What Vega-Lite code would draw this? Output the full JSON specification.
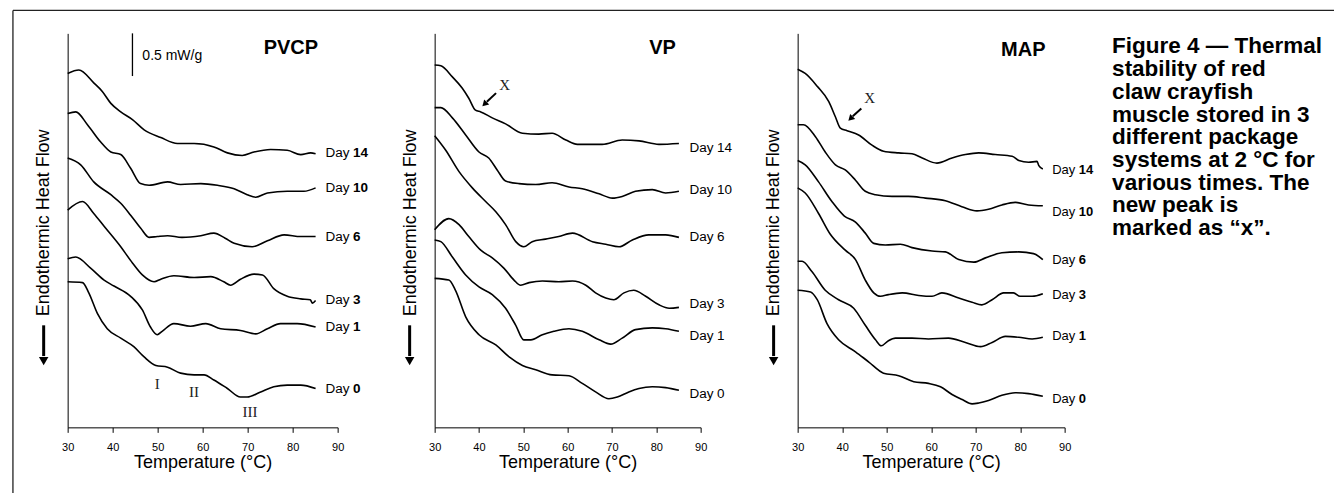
{
  "$schema": "https://vega.github.io/schema/vega-lite/v6.json",
  "padding": {"left": 11.65, "top": 9.35, "right": 0, "bottom": 0},
  "background": "white",
  "spacing": 97,
  "bounds": "flush",
  "datasets": {
    "curves": [
      {"p":"PVCP","d":14,"t":30,"v":4.13},{"p":"PVCP","d":14,"t":32.5,"v":4.17},{"p":"PVCP","d":14,"t":35.8,"v":4.02},{"p":"PVCP","d":14,"t":37.7,"v":3.92},{"p":"PVCP","d":14,"t":39.6,"v":3.78},{"p":"PVCP","d":14,"t":41.8,"v":3.68},{"p":"PVCP","d":14,"t":44.4,"v":3.59},{"p":"PVCP","d":14,"t":47.0,"v":3.47},{"p":"PVCP","d":14,"t":50.7,"v":3.38},{"p":"PVCP","d":14,"t":54.4,"v":3.31},{"p":"PVCP","d":14,"t":58.1,"v":3.31},{"p":"PVCP","d":14,"t":62.5,"v":3.27},{"p":"PVCP","d":14,"t":65.5,"v":3.20},{"p":"PVCP","d":14,"t":68.8,"v":3.17},{"p":"PVCP","d":14,"t":71.4,"v":3.21},{"p":"PVCP","d":14,"t":75.1,"v":3.24},{"p":"PVCP","d":14,"t":78.8,"v":3.23},{"p":"PVCP","d":14,"t":81.8,"v":3.18},{"p":"PVCP","d":14,"t":84.0,"v":3.20},{"p":"PVCP","d":14,"t":85.1,"v":3.19},
      {"p":"PVCP","d":10,"t":30,"v":3.66},{"p":"PVCP","d":10,"t":31.8,"v":3.68},{"p":"PVCP","d":10,"t":34.4,"v":3.53},{"p":"PVCP","d":10,"t":37.3,"v":3.33},{"p":"PVCP","d":10,"t":39.6,"v":3.21},{"p":"PVCP","d":10,"t":41.8,"v":3.18},{"p":"PVCP","d":10,"t":44.0,"v":3.02},{"p":"PVCP","d":10,"t":46.2,"v":2.84},{"p":"PVCP","d":10,"t":48.1,"v":2.82},{"p":"PVCP","d":10,"t":52.2,"v":2.86},{"p":"PVCP","d":10,"t":55.1,"v":2.83},{"p":"PVCP","d":10,"t":59.6,"v":2.84},{"p":"PVCP","d":10,"t":63.3,"v":2.82},{"p":"PVCP","d":10,"t":67.0,"v":2.78},{"p":"PVCP","d":10,"t":69.9,"v":2.71},{"p":"PVCP","d":10,"t":71.8,"v":2.68},{"p":"PVCP","d":10,"t":74.4,"v":2.73},{"p":"PVCP","d":10,"t":78.8,"v":2.75},{"p":"PVCP","d":10,"t":82.5,"v":2.75},{"p":"PVCP","d":10,"t":85.1,"v":2.79},
      {"p":"PVCP","d":6,"t":30,"v":3.14},{"p":"PVCP","d":6,"t":32.9,"v":3.06},{"p":"PVCP","d":6,"t":35.8,"v":2.86},{"p":"PVCP","d":6,"t":39.6,"v":2.71},{"p":"PVCP","d":6,"t":41.8,"v":2.61},{"p":"PVCP","d":6,"t":44.0,"v":2.47},{"p":"PVCP","d":6,"t":46.2,"v":2.32},{"p":"PVCP","d":6,"t":48.1,"v":2.21},{"p":"PVCP","d":6,"t":49.9,"v":2.22},{"p":"PVCP","d":6,"t":52.2,"v":2.23},{"p":"PVCP","d":6,"t":55.4,"v":2.21},{"p":"PVCP","d":6,"t":59.6,"v":2.23},{"p":"PVCP","d":6,"t":62.5,"v":2.26},{"p":"PVCP","d":6,"t":65.0,"v":2.20},{"p":"PVCP","d":6,"t":67.0,"v":2.14},{"p":"PVCP","d":6,"t":71.0,"v":2.10},{"p":"PVCP","d":6,"t":74.4,"v":2.17},{"p":"PVCP","d":6,"t":78.1,"v":2.24},{"p":"PVCP","d":6,"t":81.8,"v":2.22},{"p":"PVCP","d":6,"t":85.1,"v":2.22},
      {"p":"PVCP","d":3,"t":30,"v":2.53},{"p":"PVCP","d":3,"t":33.3,"v":2.63},{"p":"PVCP","d":3,"t":35.8,"v":2.49},{"p":"PVCP","d":3,"t":38.1,"v":2.34},{"p":"PVCP","d":3,"t":41.8,"v":2.10},{"p":"PVCP","d":3,"t":44.4,"v":1.91},{"p":"PVCP","d":3,"t":46.6,"v":1.77},{"p":"PVCP","d":3,"t":49.2,"v":1.69},{"p":"PVCP","d":3,"t":50.7,"v":1.72},{"p":"PVCP","d":3,"t":53.6,"v":1.76},{"p":"PVCP","d":3,"t":58.1,"v":1.74},{"p":"PVCP","d":3,"t":61.8,"v":1.75},{"p":"PVCP","d":3,"t":64.7,"v":1.69},{"p":"PVCP","d":3,"t":66.2,"v":1.65},{"p":"PVCP","d":3,"t":68.4,"v":1.72},{"p":"PVCP","d":3,"t":71.4,"v":1.78},{"p":"PVCP","d":3,"t":73.3,"v":1.77},{"p":"PVCP","d":3,"t":75.8,"v":1.61},{"p":"PVCP","d":3,"t":78.8,"v":1.52},{"p":"PVCP","d":3,"t":81.8,"v":1.49},{"p":"PVCP","d":3,"t":83.9,"v":1.48},{"p":"PVCP","d":3,"t":84.4,"v":1.44},{"p":"PVCP","d":3,"t":85.1,"v":1.47},
      {"p":"PVCP","d":1,"t":30,"v":1.96},{"p":"PVCP","d":1,"t":31.8,"v":1.98},{"p":"PVCP","d":1,"t":35.1,"v":1.85},{"p":"PVCP","d":1,"t":38.1,"v":1.71},{"p":"PVCP","d":1,"t":40.3,"v":1.64},{"p":"PVCP","d":1,"t":44.0,"v":1.52},{"p":"PVCP","d":1,"t":46.6,"v":1.36},{"p":"PVCP","d":1,"t":48.4,"v":1.16},{"p":"PVCP","d":1,"t":49.9,"v":1.07},{"p":"PVCP","d":1,"t":51.0,"v":1.11},{"p":"PVCP","d":1,"t":53.6,"v":1.20},{"p":"PVCP","d":1,"t":57.3,"v":1.17},{"p":"PVCP","d":1,"t":60.7,"v":1.20},{"p":"PVCP","d":1,"t":64.0,"v":1.14},{"p":"PVCP","d":1,"t":68.4,"v":1.12},{"p":"PVCP","d":1,"t":71.8,"v":1.08},{"p":"PVCP","d":1,"t":74.4,"v":1.14},{"p":"PVCP","d":1,"t":77.3,"v":1.20},{"p":"PVCP","d":1,"t":81.0,"v":1.20},{"p":"PVCP","d":1,"t":85.1,"v":1.16},
      {"p":"PVCP","d":0,"t":30,"v":1.69},{"p":"PVCP","d":0,"t":33.3,"v":1.68},{"p":"PVCP","d":0,"t":34.7,"v":1.56},{"p":"PVCP","d":0,"t":36.6,"v":1.32},{"p":"PVCP","d":0,"t":38.8,"v":1.14},{"p":"PVCP","d":0,"t":41.8,"v":1.03},{"p":"PVCP","d":0,"t":44.7,"v":0.93},{"p":"PVCP","d":0,"t":47.0,"v":0.81},{"p":"PVCP","d":0,"t":49.6,"v":0.71},{"p":"PVCP","d":0,"t":52.2,"v":0.69},{"p":"PVCP","d":0,"t":55.1,"v":0.62},{"p":"PVCP","d":0,"t":58.1,"v":0.60},{"p":"PVCP","d":0,"t":60.3,"v":0.60},{"p":"PVCP","d":0,"t":62.5,"v":0.54},{"p":"PVCP","d":0,"t":65.5,"v":0.44},{"p":"PVCP","d":0,"t":68.4,"v":0.34},{"p":"PVCP","d":0,"t":69.9,"v":0.34},{"p":"PVCP","d":0,"t":72.9,"v":0.40},{"p":"PVCP","d":0,"t":75.8,"v":0.46},{"p":"PVCP","d":0,"t":78.8,"v":0.48},{"p":"PVCP","d":0,"t":81.8,"v":0.48},{"p":"PVCP","d":0,"t":85.1,"v":0.44},
      {"p":"VP","d":14,"t":30,"v":4.23},{"p":"VP","d":14,"t":31.4,"v":4.22},{"p":"VP","d":14,"t":34.0,"v":4.09},{"p":"VP","d":14,"t":36.2,"v":3.96},{"p":"VP","d":14,"t":37.7,"v":3.84},{"p":"VP","d":14,"t":39.2,"v":3.70},{"p":"VP","d":14,"t":40.4,"v":3.68},{"p":"VP","d":14,"t":43.0,"v":3.61},{"p":"VP","d":14,"t":46.0,"v":3.54},{"p":"VP","d":14,"t":49.8,"v":3.43},{"p":"VP","d":14,"t":53.5,"v":3.42},{"p":"VP","d":14,"t":56.5,"v":3.43},{"p":"VP","d":14,"t":59.6,"v":3.35},{"p":"VP","d":14,"t":62.2,"v":3.30},{"p":"VP","d":14,"t":67.8,"v":3.30},{"p":"VP","d":14,"t":72.3,"v":3.35},{"p":"VP","d":14,"t":76.1,"v":3.34},{"p":"VP","d":14,"t":80.6,"v":3.30},{"p":"VP","d":14,"t":85.1,"v":3.31},
      {"p":"VP","d":10,"t":30,"v":3.73},{"p":"VP","d":10,"t":31.4,"v":3.73},{"p":"VP","d":10,"t":34.0,"v":3.61},{"p":"VP","d":10,"t":37.0,"v":3.41},{"p":"VP","d":10,"t":40.0,"v":3.21},{"p":"VP","d":10,"t":42.2,"v":3.14},{"p":"VP","d":10,"t":44.1,"v":3.00},{"p":"VP","d":10,"t":46.0,"v":2.87},{"p":"VP","d":10,"t":49.0,"v":2.84},{"p":"VP","d":10,"t":52.8,"v":2.83},{"p":"VP","d":10,"t":56.5,"v":2.85},{"p":"VP","d":10,"t":60.3,"v":2.80},{"p":"VP","d":10,"t":63.3,"v":2.78},{"p":"VP","d":10,"t":67.1,"v":2.72},{"p":"VP","d":10,"t":70.1,"v":2.67},{"p":"VP","d":10,"t":72.3,"v":2.69},{"p":"VP","d":10,"t":75.3,"v":2.75},{"p":"VP","d":10,"t":79.1,"v":2.77},{"p":"VP","d":10,"t":82.1,"v":2.73},{"p":"VP","d":10,"t":85.1,"v":2.75},
      {"p":"VP","d":6,"t":30,"v":3.40},{"p":"VP","d":6,"t":32.5,"v":3.23},{"p":"VP","d":6,"t":35.5,"v":2.98},{"p":"VP","d":6,"t":38.5,"v":2.79},{"p":"VP","d":6,"t":41.5,"v":2.63},{"p":"VP","d":6,"t":43.8,"v":2.51},{"p":"VP","d":6,"t":46.0,"v":2.36},{"p":"VP","d":6,"t":48.3,"v":2.16},{"p":"VP","d":6,"t":50.1,"v":2.10},{"p":"VP","d":6,"t":52.0,"v":2.16},{"p":"VP","d":6,"t":55.0,"v":2.19},{"p":"VP","d":6,"t":58.0,"v":2.22},{"p":"VP","d":6,"t":61.1,"v":2.26},{"p":"VP","d":6,"t":65.6,"v":2.16},{"p":"VP","d":6,"t":68.6,"v":2.13},{"p":"VP","d":6,"t":71.6,"v":2.10},{"p":"VP","d":6,"t":74.6,"v":2.18},{"p":"VP","d":6,"t":78.3,"v":2.24},{"p":"VP","d":6,"t":82.1,"v":2.24},{"p":"VP","d":6,"t":85.1,"v":2.21},
      {"p":"VP","d":3,"t":30,"v":2.30},{"p":"VP","d":3,"t":33.2,"v":2.43},{"p":"VP","d":3,"t":35.5,"v":2.36},{"p":"VP","d":3,"t":37.7,"v":2.22},{"p":"VP","d":3,"t":40.4,"v":2.06},{"p":"VP","d":3,"t":43.0,"v":1.97},{"p":"VP","d":3,"t":45.6,"v":1.85},{"p":"VP","d":3,"t":47.9,"v":1.71},{"p":"VP","d":3,"t":49.4,"v":1.65},{"p":"VP","d":3,"t":51.3,"v":1.68},{"p":"VP","d":3,"t":54.3,"v":1.70},{"p":"VP","d":3,"t":58.0,"v":1.69},{"p":"VP","d":3,"t":61.1,"v":1.70},{"p":"VP","d":3,"t":64.1,"v":1.65},{"p":"VP","d":3,"t":66.3,"v":1.56},{"p":"VP","d":3,"t":68.6,"v":1.50},{"p":"VP","d":3,"t":70.4,"v":1.48},{"p":"VP","d":3,"t":72.7,"v":1.56},{"p":"VP","d":3,"t":74.9,"v":1.59},{"p":"VP","d":3,"t":77.6,"v":1.52},{"p":"VP","d":3,"t":80.6,"v":1.42},{"p":"VP","d":3,"t":82.9,"v":1.38},{"p":"VP","d":3,"t":85.1,"v":1.39},
      {"p":"VP","d":1,"t":30,"v":2.18},{"p":"VP","d":1,"t":31.4,"v":2.16},{"p":"VP","d":1,"t":34.0,"v":1.98},{"p":"VP","d":1,"t":37.0,"v":1.77},{"p":"VP","d":1,"t":40.0,"v":1.63},{"p":"VP","d":1,"t":43.0,"v":1.54},{"p":"VP","d":1,"t":46.0,"v":1.38},{"p":"VP","d":1,"t":48.3,"v":1.18},{"p":"VP","d":1,"t":50.1,"v":1.01},{"p":"VP","d":1,"t":51.7,"v":1.01},{"p":"VP","d":1,"t":54.3,"v":1.07},{"p":"VP","d":1,"t":56.9,"v":1.11},{"p":"VP","d":1,"t":60.3,"v":1.14},{"p":"VP","d":1,"t":63.3,"v":1.11},{"p":"VP","d":1,"t":67.1,"v":1.01},{"p":"VP","d":1,"t":69.7,"v":0.96},{"p":"VP","d":1,"t":72.3,"v":1.03},{"p":"VP","d":1,"t":75.3,"v":1.13},{"p":"VP","d":1,"t":79.1,"v":1.15},{"p":"VP","d":1,"t":82.1,"v":1.14},{"p":"VP","d":1,"t":85.1,"v":1.11},
      {"p":"VP","d":0,"t":30,"v":1.73},{"p":"VP","d":0,"t":33.2,"v":1.71},{"p":"VP","d":0,"t":34.7,"v":1.59},{"p":"VP","d":0,"t":37.0,"v":1.28},{"p":"VP","d":0,"t":40.0,"v":1.07},{"p":"VP","d":0,"t":43.8,"v":0.95},{"p":"VP","d":0,"t":46.8,"v":0.81},{"p":"VP","d":0,"t":49.8,"v":0.71},{"p":"VP","d":0,"t":52.8,"v":0.66},{"p":"VP","d":0,"t":56.5,"v":0.60},{"p":"VP","d":0,"t":60.3,"v":0.59},{"p":"VP","d":0,"t":63.3,"v":0.50},{"p":"VP","d":0,"t":66.3,"v":0.40},{"p":"VP","d":0,"t":69.3,"v":0.32},{"p":"VP","d":0,"t":71.2,"v":0.34},{"p":"VP","d":0,"t":73.8,"v":0.40},{"p":"VP","d":0,"t":76.1,"v":0.44},{"p":"VP","d":0,"t":79.1,"v":0.46},{"p":"VP","d":0,"t":82.1,"v":0.45},{"p":"VP","d":0,"t":85.1,"v":0.42},
      {"p":"MAP","d":14,"t":30,"v":4.18},{"p":"MAP","d":14,"t":31.7,"v":4.13},{"p":"MAP","d":14,"t":34.4,"v":3.98},{"p":"MAP","d":14,"t":37.0,"v":3.80},{"p":"MAP","d":14,"t":38.5,"v":3.62},{"p":"MAP","d":14,"t":39.6,"v":3.49},{"p":"MAP","d":14,"t":41.1,"v":3.46},{"p":"MAP","d":14,"t":43.7,"v":3.41},{"p":"MAP","d":14,"t":46.7,"v":3.29},{"p":"MAP","d":14,"t":49.3,"v":3.22},{"p":"MAP","d":14,"t":52.7,"v":3.20},{"p":"MAP","d":14,"t":55.7,"v":3.19},{"p":"MAP","d":14,"t":58.0,"v":3.14},{"p":"MAP","d":14,"t":61.3,"v":3.08},{"p":"MAP","d":14,"t":64.7,"v":3.14},{"p":"MAP","d":14,"t":67.7,"v":3.18},{"p":"MAP","d":14,"t":70.7,"v":3.20},{"p":"MAP","d":14,"t":74.4,"v":3.18},{"p":"MAP","d":14,"t":78.2,"v":3.16},{"p":"MAP","d":14,"t":79.7,"v":3.11},{"p":"MAP","d":14,"t":81.9,"v":3.09},{"p":"MAP","d":14,"t":83.8,"v":3.10},{"p":"MAP","d":14,"t":84.2,"v":3.05},{"p":"MAP","d":14,"t":85.1,"v":3.01},
      {"p":"MAP","d":10,"t":30,"v":3.53},{"p":"MAP","d":10,"t":31.3,"v":3.53},{"p":"MAP","d":10,"t":34.0,"v":3.39},{"p":"MAP","d":10,"t":36.2,"v":3.21},{"p":"MAP","d":10,"t":38.5,"v":3.06},{"p":"MAP","d":10,"t":40.7,"v":3.00},{"p":"MAP","d":10,"t":43.0,"v":2.88},{"p":"MAP","d":10,"t":45.2,"v":2.75},{"p":"MAP","d":10,"t":47.5,"v":2.71},{"p":"MAP","d":10,"t":51.2,"v":2.69},{"p":"MAP","d":10,"t":54.9,"v":2.69},{"p":"MAP","d":10,"t":58.7,"v":2.67},{"p":"MAP","d":10,"t":63.2,"v":2.64},{"p":"MAP","d":10,"t":66.9,"v":2.57},{"p":"MAP","d":10,"t":70.3,"v":2.52},{"p":"MAP","d":10,"t":72.9,"v":2.54},{"p":"MAP","d":10,"t":75.9,"v":2.59},{"p":"MAP","d":10,"t":78.9,"v":2.62},{"p":"MAP","d":10,"t":81.9,"v":2.59},{"p":"MAP","d":10,"t":85.1,"v":2.58},
      {"p":"MAP","d":6,"t":30,"v":3.11},{"p":"MAP","d":6,"t":31.7,"v":3.06},{"p":"MAP","d":6,"t":34.7,"v":2.86},{"p":"MAP","d":6,"t":37.7,"v":2.63},{"p":"MAP","d":6,"t":40.5,"v":2.46},{"p":"MAP","d":6,"t":43.0,"v":2.39},{"p":"MAP","d":6,"t":45.2,"v":2.26},{"p":"MAP","d":6,"t":47.1,"v":2.14},{"p":"MAP","d":6,"t":49.7,"v":2.12},{"p":"MAP","d":6,"t":53.1,"v":2.13},{"p":"MAP","d":6,"t":55.7,"v":2.09},{"p":"MAP","d":6,"t":60.2,"v":2.05},{"p":"MAP","d":6,"t":63.2,"v":2.04},{"p":"MAP","d":6,"t":66.2,"v":1.95},{"p":"MAP","d":6,"t":69.6,"v":1.92},{"p":"MAP","d":6,"t":72.2,"v":1.97},{"p":"MAP","d":6,"t":75.9,"v":2.03},{"p":"MAP","d":6,"t":79.7,"v":2.04},{"p":"MAP","d":6,"t":83.0,"v":2.02},{"p":"MAP","d":6,"t":85.1,"v":1.95},
      {"p":"MAP","d":3,"t":30,"v":2.79},{"p":"MAP","d":3,"t":31.7,"v":2.73},{"p":"MAP","d":3,"t":34.7,"v":2.49},{"p":"MAP","d":3,"t":37.3,"v":2.25},{"p":"MAP","d":3,"t":40.7,"v":2.06},{"p":"MAP","d":3,"t":43.0,"v":1.95},{"p":"MAP","d":3,"t":45.2,"v":1.71},{"p":"MAP","d":3,"t":47.1,"v":1.56},{"p":"MAP","d":3,"t":48.6,"v":1.52},{"p":"MAP","d":3,"t":50.4,"v":1.54},{"p":"MAP","d":3,"t":53.5,"v":1.56},{"p":"MAP","d":3,"t":57.2,"v":1.53},{"p":"MAP","d":3,"t":60.2,"v":1.52},{"p":"MAP","d":3,"t":62.4,"v":1.56},{"p":"MAP","d":3,"t":66.2,"v":1.50},{"p":"MAP","d":3,"t":69.2,"v":1.45},{"p":"MAP","d":3,"t":71.4,"v":1.42},{"p":"MAP","d":3,"t":73.7,"v":1.48},{"p":"MAP","d":3,"t":76.3,"v":1.56},{"p":"MAP","d":3,"t":78.5,"v":1.56},{"p":"MAP","d":3,"t":80.0,"v":1.52},{"p":"MAP","d":3,"t":82.7,"v":1.52},{"p":"MAP","d":3,"t":85.1,"v":1.55},
      {"p":"MAP","d":1,"t":30,"v":1.93},{"p":"MAP","d":1,"t":31.0,"v":1.93},{"p":"MAP","d":1,"t":33.2,"v":1.81},{"p":"MAP","d":1,"t":36.2,"v":1.59},{"p":"MAP","d":1,"t":39.2,"v":1.48},{"p":"MAP","d":1,"t":42.6,"v":1.38},{"p":"MAP","d":1,"t":45.2,"v":1.18},{"p":"MAP","d":1,"t":47.5,"v":1.01},{"p":"MAP","d":1,"t":48.8,"v":0.94},{"p":"MAP","d":1,"t":50.4,"v":1.00},{"p":"MAP","d":1,"t":52.0,"v":1.03},{"p":"MAP","d":1,"t":55.7,"v":1.03},{"p":"MAP","d":1,"t":59.4,"v":1.02},{"p":"MAP","d":1,"t":63.9,"v":1.03},{"p":"MAP","d":1,"t":67.7,"v":0.98},{"p":"MAP","d":1,"t":71.1,"v":0.93},{"p":"MAP","d":1,"t":73.7,"v":0.98},{"p":"MAP","d":1,"t":76.7,"v":1.05},{"p":"MAP","d":1,"t":79.7,"v":1.04},{"p":"MAP","d":1,"t":82.7,"v":1.02},{"p":"MAP","d":1,"t":85.1,"v":1.04},
      {"p":"MAP","d":0,"t":30,"v":1.59},{"p":"MAP","d":0,"t":32.9,"v":1.57},{"p":"MAP","d":0,"t":34.4,"v":1.48},{"p":"MAP","d":0,"t":36.6,"v":1.20},{"p":"MAP","d":0,"t":39.2,"v":1.01},{"p":"MAP","d":0,"t":43.0,"v":0.87},{"p":"MAP","d":0,"t":46.0,"v":0.75},{"p":"MAP","d":0,"t":49.3,"v":0.62},{"p":"MAP","d":0,"t":52.7,"v":0.59},{"p":"MAP","d":0,"t":56.1,"v":0.52},{"p":"MAP","d":0,"t":59.4,"v":0.50},{"p":"MAP","d":0,"t":62.1,"v":0.46},{"p":"MAP","d":0,"t":64.7,"v":0.37},{"p":"MAP","d":0,"t":67.0,"v":0.31},{"p":"MAP","d":0,"t":69.2,"v":0.26},{"p":"MAP","d":0,"t":70.7,"v":0.27},{"p":"MAP","d":0,"t":72.9,"v":0.30},{"p":"MAP","d":0,"t":75.9,"v":0.36},{"p":"MAP","d":0,"t":78.9,"v":0.39},{"p":"MAP","d":0,"t":81.9,"v":0.38},{"p":"MAP","d":0,"t":85.1,"v":0.35}
    ],
    "labels": [
      {"p":"PVCP","n":"14","t":87.3,"v":3.20},{"p":"PVCP","n":"10","t":87.3,"v":2.79},{"p":"PVCP","n":"6","t":87.3,"v":2.22},{"p":"PVCP","n":"3","t":87.3,"v":1.48},{"p":"PVCP","n":"1","t":87.3,"v":1.16},{"p":"PVCP","n":"0","t":87.3,"v":0.43},
      {"p":"VP","n":"14","t":87.5,"v":3.26},{"p":"VP","n":"10","t":87.5,"v":2.77},{"p":"VP","n":"6","t":87.5,"v":2.21},{"p":"VP","n":"3","t":87.5,"v":1.43},{"p":"VP","n":"1","t":87.5,"v":1.05},{"p":"VP","n":"0","t":87.5,"v":0.38},
      {"p":"MAP","n":"14","t":87.2,"v":3.00},{"p":"MAP","n":"10","t":87.2,"v":2.51},{"p":"MAP","n":"6","t":87.2,"v":1.95},{"p":"MAP","n":"3","t":87.2,"v":1.53},{"p":"MAP","n":"1","t":87.2,"v":1.05},{"p":"MAP","n":"0","t":87.2,"v":0.32}
    ]
  },
  "hconcat": [
    {
      "width": 270, "height": 394,
      "layer": [
        {"data": {"values": [{}]}, "mark": {"type": "rule", "clip": false, "stroke": "#222222", "strokeWidth": 1.3},
         "encoding": {"x": {"datum": 17.84, "type": "quantitative"}, "y": {"datum": 4.869, "type": "quantitative"}, "y2": {"datum": -0.95}}},
        {"data": {"values": [{}]}, "mark": {"type": "rule", "clip": false, "stroke": "#222222", "strokeWidth": 1.3},
         "encoding": {"x": {"datum": 17.84, "type": "quantitative"}, "x2": {"datum": 312.9}, "y": {"datum": 4.869, "type": "quantitative"}}},
        {"data": {"name": "curves"}, "transform": [{"filter": "datum.p == 'PVCP'"}],
         "mark": {"type": "line", "interpolate": "monotone", "stroke": "black", "strokeWidth": 1.6},
         "encoding": {
           "x": {"field": "t", "type": "quantitative", "title": "Temperature (°C)", "scale": {"domain": [30, 90], "nice": false, "zero": false},
                 "axis": {"values": [30, 40, 50, 60, 70, 80, 90], "format": "d", "grid": false, "tickSize": 5, "labelFontSize": 11, "labelPadding": 9, "labelFlush": false, "labelOverlap": false, "titleFontSize": 18, "titleFontWeight": "normal", "titleY": 40, "titleBaseline": "alphabetic"}},
           "y": {"field": "v", "type": "quantitative", "title": "Endothermic Heat Flow", "scale": {"domain": [-0.015, 4.6], "nice": false, "zero": false},
                 "axis": {"ticks": false, "labels": false, "grid": false, "titleFontSize": 18, "titleFontWeight": "normal", "titleX": -24, "titleY": 189, "titleAngle": 270, "titleBaseline": "middle", "titleAlign": "center"}},
           "detail": {"field": "d", "type": "nominal"}}},
        {"data": {"name": "labels"}, "transform": [{"filter": "datum.p == 'PVCP'"}],
         "mark": {"type": "text", "align": "left", "baseline": "middle", "fontSize": 13.5, "color": "black"},
         "encoding": {"x": {"field": "t", "type": "quantitative"}, "y": {"field": "v", "type": "quantitative"}, "text": {"value": "Day"}}},
        {"data": {"name": "labels"}, "transform": [{"filter": "datum.p == 'PVCP'"}],
         "mark": {"type": "text", "align": "left", "baseline": "middle", "fontSize": 13.5, "fontWeight": "bold", "dx": 27.5, "color": "black"},
         "encoding": {"x": {"field": "t", "type": "quantitative"}, "y": {"field": "v", "type": "quantitative"}, "text": {"field": "n"}}},
        {"data": {"values": [{}]}, "mark": {"type": "text", "fontSize": 20, "fontWeight": "bold", "align": "center", "baseline": "middle", "color": "black"},
         "encoding": {"x": {"datum": 79.6, "type": "quantitative"}, "y": {"datum": 4.43, "type": "quantitative"}, "text": {"value": "PVCP"}}},
        {"data": {"values": [{}]}, "mark": {"type": "rule", "stroke": "black", "strokeWidth": 1.3},
         "encoding": {"x": {"datum": 44.4, "type": "quantitative"}, "y": {"datum": 4.10, "type": "quantitative"}, "y2": {"datum": 4.6}}},
        {"data": {"values": [{}]}, "mark": {"type": "text", "fontSize": 14, "align": "left", "baseline": "middle", "color": "black"},
         "encoding": {"x": {"datum": 46.6, "type": "quantitative"}, "y": {"datum": 4.34, "type": "quantitative"}, "text": {"value": "0.5 mW/g"}}},
        {"data": {"values": [{}]}, "mark": {"type": "text", "font": "Liberation Serif", "fontSize": 15, "align": "center", "baseline": "middle", "color": "#222222"},
         "encoding": {"x": {"datum": 49.9, "type": "quantitative"}, "y": {"datum": 0.49, "type": "quantitative"}, "text": {"value": "I"}}},
        {"data": {"values": [{}]}, "mark": {"type": "text", "font": "Liberation Serif", "fontSize": 15, "align": "center", "baseline": "middle", "color": "#222222"},
         "encoding": {"x": {"datum": 58.1, "type": "quantitative"}, "y": {"datum": 0.40, "type": "quantitative"}, "text": {"value": "II"}}},
        {"data": {"values": [{}]}, "mark": {"type": "text", "font": "Liberation Serif", "fontSize": 15, "align": "center", "baseline": "middle", "color": "#222222"},
         "encoding": {"x": {"datum": 70.5, "type": "quantitative"}, "y": {"datum": 0.17, "type": "quantitative"}, "text": {"value": "III"}}},
        {"data": {"values": [{}]}, "mark": {"type": "rule", "clip": false, "stroke": "black", "strokeWidth": 3},
         "encoding": {"x": {"datum": 24.67, "type": "quantitative"}, "y": {"datum": 1.18, "type": "quantitative"}, "y2": {"datum": 0.82}}},
        {"data": {"values": [{}]}, "mark": {"type": "point", "clip": false, "shape": "triangle-down", "filled": true, "size": 90, "color": "black", "opacity": 1},
         "encoding": {"x": {"datum": 24.67, "type": "quantitative"}, "y": {"datum": 0.76, "type": "quantitative"}}}
      ]
    },
    {
      "width": 266, "height": 394,
      "layer": [
        {"data": {"name": "curves"}, "transform": [{"filter": "datum.p == 'VP'"}],
         "mark": {"type": "line", "interpolate": "monotone", "stroke": "black", "strokeWidth": 1.6},
         "encoding": {
           "x": {"field": "t", "type": "quantitative", "title": "Temperature (°C)", "scale": {"domain": [30, 90], "nice": false, "zero": false},
                 "axis": {"values": [30, 40, 50, 60, 70, 80, 90], "format": "d", "grid": false, "tickSize": 5, "labelFontSize": 11, "labelPadding": 9, "labelFlush": false, "labelOverlap": false, "titleFontSize": 18, "titleFontWeight": "normal", "titleY": 40, "titleBaseline": "alphabetic"}},
           "y": {"field": "v", "type": "quantitative", "title": "Endothermic Heat Flow", "scale": {"domain": [-0.015, 4.6], "nice": false, "zero": false},
                 "axis": {"ticks": false, "labels": false, "grid": false, "titleFontSize": 18, "titleFontWeight": "normal", "titleX": -24, "titleY": 189, "titleAngle": 270, "titleBaseline": "middle", "titleAlign": "center"}},
           "detail": {"field": "d", "type": "nominal"}}},
        {"data": {"name": "labels"}, "transform": [{"filter": "datum.p == 'VP'"}],
         "mark": {"type": "text", "align": "left", "baseline": "middle", "fontSize": 13.5, "color": "black"},
         "encoding": {"x": {"field": "t", "type": "quantitative"}, "y": {"field": "v", "type": "quantitative"}, "text": {"value": "Day"}}},
        {"data": {"name": "labels"}, "transform": [{"filter": "datum.p == 'VP'"}],
         "mark": {"type": "text", "align": "left", "baseline": "middle", "fontSize": 13.5, "dx": 27.5, "color": "black"},
         "encoding": {"x": {"field": "t", "type": "quantitative"}, "y": {"field": "v", "type": "quantitative"}, "text": {"field": "n"}}},
        {"data": {"values": [{}]}, "mark": {"type": "text", "fontSize": 20, "fontWeight": "bold", "align": "center", "baseline": "middle", "color": "black"},
         "encoding": {"x": {"datum": 81.4, "type": "quantitative"}, "y": {"datum": 4.43, "type": "quantitative"}, "text": {"value": "VP"}}},
        {"data": {"values": [{}]}, "mark": {"type": "text", "font": "Liberation Serif", "fontSize": 15, "align": "center", "baseline": "middle", "color": "#222222"},
         "encoding": {"x": {"datum": 45.8, "type": "quantitative"}, "y": {"datum": 4.00, "type": "quantitative"}, "text": {"value": "X"}}},
        {"data": {"values": [{}]}, "mark": {"type": "rule", "stroke": "black", "strokeWidth": 2},
         "encoding": {"x": {"datum": 43.85, "type": "quantitative"}, "y": {"datum": 3.90, "type": "quantitative"}, "x2": {"datum": 41.78}, "y2": {"datum": 3.80}}},
        {"data": {"values": [{}]}, "mark": {"type": "point", "shape": "triangle", "filled": true, "size": 50, "angle": 225, "color": "black", "opacity": 1},
         "encoding": {"x": {"datum": 41.41, "type": "quantitative"}, "y": {"datum": 3.78, "type": "quantitative"}}},
        {"data": {"values": [{}]}, "mark": {"type": "rule", "clip": false, "stroke": "black", "strokeWidth": 3},
         "encoding": {"x": {"datum": 24.36, "type": "quantitative"}, "y": {"datum": 1.18, "type": "quantitative"}, "y2": {"datum": 0.82}}},
        {"data": {"values": [{}]}, "mark": {"type": "point", "clip": false, "shape": "triangle-down", "filled": true, "size": 90, "color": "black", "opacity": 1},
         "encoding": {"x": {"datum": 24.36, "type": "quantitative"}, "y": {"datum": 0.76, "type": "quantitative"}}}
      ]
    },
    {
      "width": 267, "height": 394,
      "layer": [
        {"data": {"name": "curves"}, "transform": [{"filter": "datum.p == 'MAP'"}],
         "mark": {"type": "line", "interpolate": "monotone", "stroke": "black", "strokeWidth": 1.6},
         "encoding": {
           "x": {"field": "t", "type": "quantitative", "title": "Temperature (°C)", "scale": {"domain": [30, 90], "nice": false, "zero": false},
                 "axis": {"values": [30, 40, 50, 60, 70, 80, 90], "format": "d", "grid": false, "tickSize": 5, "labelFontSize": 11, "labelPadding": 9, "labelFlush": false, "labelOverlap": false, "titleFontSize": 18, "titleFontWeight": "normal", "titleY": 40, "titleBaseline": "alphabetic"}},
           "y": {"field": "v", "type": "quantitative", "title": "Endothermic Heat Flow", "scale": {"domain": [-0.015, 4.6], "nice": false, "zero": false},
                 "axis": {"ticks": false, "labels": false, "grid": false, "titleFontSize": 18, "titleFontWeight": "normal", "titleX": -24, "titleY": 189, "titleAngle": 270, "titleBaseline": "middle", "titleAlign": "center"}},
           "detail": {"field": "d", "type": "nominal"}}},
        {"data": {"name": "labels"}, "transform": [{"filter": "datum.p == 'MAP'"}],
         "mark": {"type": "text", "align": "left", "baseline": "middle", "fontSize": 13, "color": "black"},
         "encoding": {"x": {"field": "t", "type": "quantitative"}, "y": {"field": "v", "type": "quantitative"}, "text": {"value": "Day"}}},
        {"data": {"name": "labels"}, "transform": [{"filter": "datum.p == 'MAP'"}],
         "mark": {"type": "text", "align": "left", "baseline": "middle", "fontSize": 13, "fontWeight": "bold", "dx": 26.5, "color": "black"},
         "encoding": {"x": {"field": "t", "type": "quantitative"}, "y": {"field": "v", "type": "quantitative"}, "text": {"field": "n"}}},
        {"data": {"values": [{}]}, "mark": {"type": "text", "fontSize": 20, "fontWeight": "bold", "align": "center", "baseline": "middle", "color": "black"},
         "encoding": {"x": {"datum": 80.7, "type": "quantitative"}, "y": {"datum": 4.41, "type": "quantitative"}, "text": {"value": "MAP"}}},
        {"data": {"values": [{}]}, "mark": {"type": "text", "font": "Liberation Serif", "fontSize": 15, "align": "center", "baseline": "middle", "color": "#222222"},
         "encoding": {"x": {"datum": 46.2, "type": "quantitative"}, "y": {"datum": 3.84, "type": "quantitative"}, "text": {"value": "X"}}},
        {"data": {"values": [{}]}, "mark": {"type": "rule", "stroke": "black", "strokeWidth": 2},
         "encoding": {"x": {"datum": 44.31, "type": "quantitative"}, "y": {"datum": 3.72, "type": "quantitative"}, "x2": {"datum": 42.38}, "y2": {"datum": 3.63}}},
        {"data": {"values": [{}]}, "mark": {"type": "point", "shape": "triangle", "filled": true, "size": 50, "angle": 225, "color": "black", "opacity": 1},
         "encoding": {"x": {"datum": 42.04, "type": "quantitative"}, "y": {"datum": 3.61, "type": "quantitative"}}},
        {"data": {"values": [{}]}, "mark": {"type": "rule", "clip": false, "stroke": "black", "strokeWidth": 3},
         "encoding": {"x": {"datum": 24.6, "type": "quantitative"}, "y": {"datum": 1.18, "type": "quantitative"}, "y2": {"datum": 0.82}}},
        {"data": {"values": [{}]}, "mark": {"type": "point", "clip": false, "shape": "triangle-down", "filled": true, "size": 90, "color": "black", "opacity": 1},
         "encoding": {"x": {"datum": 24.6, "type": "quantitative"}, "y": {"datum": 0.76, "type": "quantitative"}}},
        {"data": {"values": [{}]}, "mark": {"type": "text", "clip": false, "align": "left", "baseline": "top", "font": "Liberation Sans", "fontSize": 22.5, "fontWeight": "bold", "lineHeight": 22.7, "color": "black"},
         "encoding": {"x": {"datum": 100.67, "type": "quantitative"}, "y": {"datum": 4.575, "type": "quantitative"},
                      "text": {"value": ["Figure 4 — Thermal", "stability of red", "claw crayfish", "muscle stored in 3", "different package", "systems at 2 °C for", "various times. The", "new peak is", "marked as “x”."]}}}
      ]
    }
  ],
  "config": {
    "view": {"stroke": null},
    "font": "Liberation Sans",
    "axis": {"domainColor": "black", "tickColor": "black", "labelColor": "black", "titleColor": "black", "domainWidth": 1, "tickWidth": 1},
    "text": {"font": "Liberation Sans"}
  }
}
